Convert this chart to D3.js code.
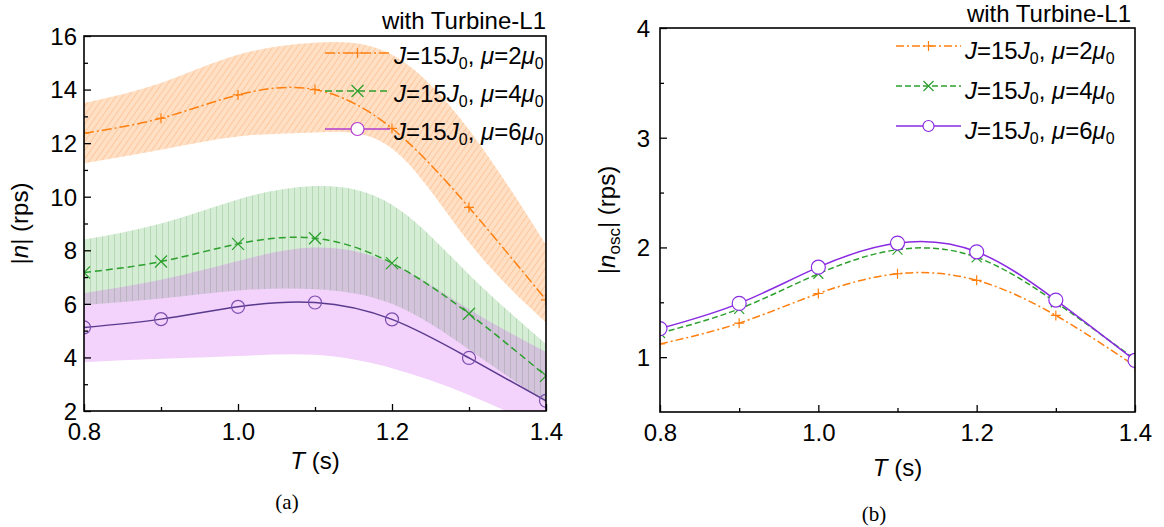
<!DOCTYPE html>
<meta charset="utf-8">
<style>
  body { margin: 0; background: #fff; }
  svg text { font-family: "Liberation Sans", Arial, sans-serif; fill: #000; }
</style>
<svg width="1164" height="527"></svg>
<script src="https://cdn.jsdelivr.net/npm/d3@7"></script>
<script>
// period T (s)
var T = [0.8, 0.9, 1.0, 1.1, 1.2, 1.3, 1.4];

// (a) mean |n| (rps) and its band
var nMu2 = [12.37, 12.93, 13.8, 14.0, 12.55, 9.6, 6.15];
var nMu2Hi = [13.5, 14.25, 15.3, 15.75, 15.3, 12.5, 8.2];
var nMu2Lo = [11.25, 11.75, 12.25, 12.4, 11.8, 8.3, 5.3];
var nMu4 = [7.17, 7.58, 8.24, 8.45, 7.52, 5.63, 3.31];
var nMu4Hi = [8.4, 9.0, 9.9, 10.4, 9.7, 7.1, 4.5];
var nMu4Lo = [5.96, 6.2, 6.5, 6.55, 6.0, 4.3, 2.3];
var nMu6 = [5.12, 5.43, 5.89, 6.05, 5.42, 3.98, 2.38];
var nMu6Hi = [6.4, 6.9, 7.6, 8.1, 7.5, 5.8, 4.2];
var nMu6Lo = [3.82, 3.95, 4.05, 4.1, 3.6, 2.6, 1.3];

// (b) |n_osc| (rps)
var oscMu2 = [1.12, 1.31, 1.58, 1.76, 1.70, 1.38, 0.92];
var oscMu4 = [1.22, 1.44, 1.76, 1.98, 1.91, 1.50, 0.98];
var oscMu6 = [1.26, 1.49, 1.82, 2.04, 1.96, 1.52, 0.97];

var muLabels = ["2", "4", "6"];
var xMajor = [0.8, 1.0, 1.2, 1.4];
var xMinor = [0.9, 1.1, 1.3];
var yMajorA = [2, 4, 6, 8, 10, 12, 14, 16];
var yMinorA = [3, 5, 7, 9, 11, 13, 15];
var yMajorB = [1, 2, 3, 4];
var yMinorB = [1.5, 2.5, 3.5];

var FS = 24;
var svg = d3.select("svg");
var defs = svg.append("defs");

function hatch(id, bg, line, w, angle) {
  var p = defs.append("pattern").attr("id", id)
    .attr("patternUnits", "userSpaceOnUse")
    .attr("width", w).attr("height", w)
    .attr("patternTransform", "rotate(" + angle + ")");
  p.append("rect").attr("width", w).attr("height", w).attr("fill", bg);
  p.append("line").attr("x1", 0.5).attr("x2", 0.5).attr("y1", 0).attr("y2", w)
    .attr("stroke", line).attr("stroke-width", 1);
}
hatch("hOrange", "rgba(255,127,14,0.24)", "rgba(235,120,30,0.22)", 5, 35);
hatch("hGreen", "rgba(44,160,44,0.2)", "rgba(40,130,40,0.18)", 6, 0);

var markers = {
  plus: function (s) { return "M" + (-s) + ",0H" + s + "M0," + (-s) + "V" + s; },
  cross: function (s) { return "M" + (-s) + "," + (-s) + "L" + s + "," + s + "M" + (-s) + "," + s + "L" + s + "," + (-s); },
  circle: function (s) { return d3.symbol(d3.symbolCircle, Math.PI * s * s)(); }
};

function legendText(sel, mu) {
  sel.append("tspan").attr("font-style", "italic").text("J");
  sel.append("tspan").text("=15");
  sel.append("tspan").attr("font-style", "italic").text("J");
  sel.append("tspan").attr("font-size", 16).attr("dy", 5).text("0");
  sel.append("tspan").attr("dy", -5).text(", ");
  sel.append("tspan").attr("font-style", "italic").text("\u03bc");
  sel.append("tspan").text("=" + mu);
  sel.append("tspan").attr("font-style", "italic").text("\u03bc");
  sel.append("tspan").attr("font-size", 16).attr("dy", 5).text("0");
}

function panel(cfg) {
  var g = svg.append("g");
  var x = d3.scaleLinear().domain([0.8, 1.4]).range([cfg.x0, cfg.x1]);
  var y = d3.scaleLinear().domain(cfg.yDomain).range([cfg.y1, cfg.y0]);

  var clipId = "clip" + cfg.id;
  defs.append("clipPath").attr("id", clipId).append("rect")
    .attr("x", cfg.x0).attr("y", cfg.y0)
    .attr("width", cfg.x1 - cfg.x0).attr("height", cfg.y1 - cfg.y0);
  var plot = g.append("g").attr("clip-path", "url(#" + clipId + ")");

  // bands
  (cfg.bands || []).forEach(function (b) {
    var area = d3.area().curve(d3.curveNatural)
      .x(function (d, i) { return x(T[i]); })
      .y0(function (d, i) { return y(b.lo[i]); })
      .y1(function (d, i) { return y(b.hi[i]); });
    plot.append("path").attr("d", area(T)).attr("fill", b.fill);
  });

  // lines and markers
  cfg.series.forEach(function (s) {
    var line = d3.line().curve(d3.curveNatural)
      .x(function (d, i) { return x(T[i]); })
      .y(function (d) { return y(d); });
    plot.append("path").attr("d", line(s.values))
      .attr("fill", "none").attr("stroke", s.lineColor || s.color)
      .attr("stroke-width", 1.5).attr("stroke-dasharray", s.dash);
    plot.selectAll(null).data(s.values).enter().append("path")
      .attr("transform", function (d, i) { return "translate(" + x(T[i]) + "," + y(d) + ")"; })
      .attr("d", markers[s.marker](s.size))
      .attr("fill", s.marker === "circle" ? s.markerFill : "none")
      .attr("stroke", s.color).attr("stroke-width", 1.2);
  });

  // axes with inward ticks
  var xAx = g.append("g").attr("transform", "translate(0," + cfg.y1 + ")")
    .call(d3.axisBottom(x).tickValues(xMajor).tickFormat(d3.format(".1f"))
      .tickSizeInner(-7).tickSizeOuter(0));
  g.append("g").attr("transform", "translate(0," + cfg.y1 + ")")
    .call(d3.axisBottom(x).tickValues(xMinor).tickFormat("").tickSizeInner(-4).tickSizeOuter(0));
  var yAx = g.append("g").attr("transform", "translate(" + cfg.x0 + ",0)")
    .call(d3.axisLeft(y).tickValues(cfg.yMajor).tickFormat(d3.format("d"))
      .tickSizeInner(-7).tickSizeOuter(0).tickPadding(cfg.yPad));
  g.append("g").attr("transform", "translate(" + cfg.x0 + ",0)")
    .call(d3.axisLeft(y).tickValues(cfg.yMinor).tickFormat("").tickSizeInner(-4).tickSizeOuter(0));
  g.selectAll(".domain").remove();
  g.selectAll(".tick line").attr("stroke", "#000").attr("stroke-width", 1.3);
  g.selectAll(".tick text").attr("font-size", FS).attr("font-family", "Liberation Sans, Arial, sans-serif");
  xAx.selectAll(".tick text").attr("dy", null).attr("y", 29);
  yAx.selectAll(".tick text").attr("dy", "0.35em");

  g.append("rect").attr("x", cfg.x0).attr("y", cfg.y0)
    .attr("width", cfg.x1 - cfg.x0).attr("height", cfg.y1 - cfg.y0)
    .attr("fill", "none").attr("stroke", "#000").attr("stroke-width", 1.6);

  // titles
  var xt = g.append("text").attr("x", (cfg.x0 + cfg.x1) / 2).attr("y", cfg.xTitleY)
    .attr("text-anchor", "middle").attr("font-size", FS);
  xt.append("tspan").attr("font-style", "italic").text("T");
  xt.append("tspan").text(" (s)");

  var yt = g.append("text")
    .attr("transform", "translate(" + cfg.yTitleX + "," + (cfg.y0 + cfg.y1) / 2 + ") rotate(-90)")
    .attr("text-anchor", "middle").attr("font-size", FS);
  yt.append("tspan").text("|");
  yt.append("tspan").attr("font-style", "italic").text("n");
  if (cfg.osc) {
    yt.append("tspan").attr("font-size", 17).attr("dy", 5).text("osc");
    yt.append("tspan").attr("dy", -5).text("| (rps)");
  } else {
    yt.append("tspan").text("| (rps)");
  }

  g.append("text").attr("x", cfg.noteX).attr("y", cfg.noteY)
    .attr("text-anchor", "end").attr("font-size", FS).text("with Turbine-L1");

  // legend
  cfg.series.forEach(function (s, i) {
    var ly = cfg.legY + i * cfg.legStep;
    g.append("line").attr("x1", cfg.legX).attr("x2", cfg.legX + cfg.legLen)
      .attr("y1", ly).attr("y2", ly)
      .attr("stroke", s.legColor || s.color).attr("stroke-width", 1.5)
      .attr("stroke-dasharray", s.dash);
    g.append("path")
      .attr("transform", "translate(" + (cfg.legX + cfg.legLen / 2) + "," + ly + ")")
      .attr("d", markers[s.marker](s.legSize || s.size))
      .attr("fill", s.marker === "circle" ? "#fff" : "none")
      .attr("stroke", s.legColor || s.color).attr("stroke-width", 1.2);
    g.append("text").attr("x", cfg.legX + cfg.legLen + 4).attr("y", ly + cfg.legDy)
      .attr("font-size", FS).call(legendText, muLabels[i]);
  });

  svg.append("text").attr("x", cfg.capX).attr("y", cfg.capY)
    .attr("text-anchor", "middle").attr("font-size", 21)
    .style("font-family", "Liberation Serif, Times New Roman, serif")
    .text(cfg.caption);
}

panel({
  id: "a", x0: 84, x1: 546, y0: 36, y1: 411, yDomain: [2, 16], yPad: 7,
  yMajor: yMajorA, yMinor: yMinorA, xTitleY: 469, yTitleX: 28, osc: false,
  noteX: 546, noteY: 29, legX: 325, legLen: 65, legY: 53, legStep: 38, legDy: 11,
  capX: 287, capY: 509, caption: "(a)",
  bands: [
    { lo: nMu2Lo, hi: nMu2Hi, fill: "url(#hOrange)" },
    { lo: nMu4Lo, hi: nMu4Hi, fill: "url(#hGreen)" },
    { lo: nMu6Lo, hi: nMu6Hi, fill: "rgba(204,68,238,0.24)" }
  ],
  series: [
    { values: nMu2, color: "#ff7f0e", dash: "10,3,2,3", marker: "plus", size: 5 },
    { values: nMu4, color: "#2ca02c", dash: "7,4", marker: "cross", size: 6 },
    { values: nMu6, color: "#7a4fb0", lineColor: "#5a3a8e", legColor: "#b23ccf", dash: null,
      marker: "circle", size: 6.5, markerFill: "none" }
  ]
});

panel({
  id: "b", x0: 660, x1: 1135, y0: 28, y1: 412, yDomain: [0.5, 4], yPad: 10,
  yMajor: yMajorB, yMinor: yMinorB, xTitleY: 476, yTitleX: 615, osc: true,
  noteX: 1131, noteY: 22, legX: 896, legLen: 65, legY: 46, legStep: 40, legDy: 13,
  capX: 874, capY: 521, caption: "(b)",
  series: [
    { values: oscMu2, color: "#ff7f0e", dash: "8,3,2,3", marker: "plus", size: 5 },
    { values: oscMu4, color: "#2ca02c", dash: "6,3", marker: "cross", size: 5 },
    { values: oscMu6, color: "#8a2be2", dash: null, marker: "circle", size: 7,
      markerFill: "#fff", legSize: 5.5 }
  ]
});
</script>
